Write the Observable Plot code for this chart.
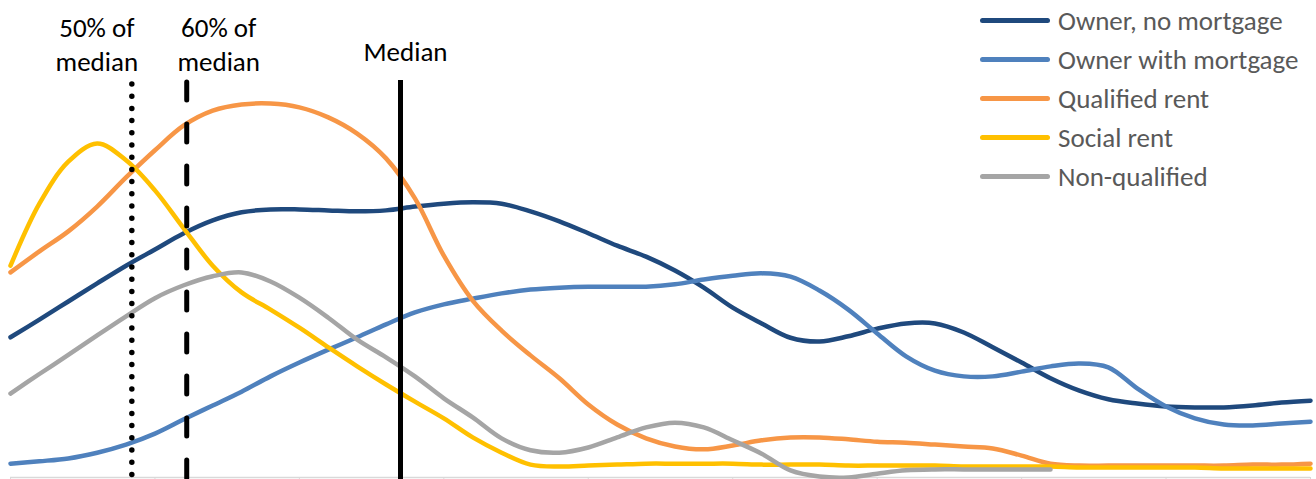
<!DOCTYPE html>
<html>
<head>
<meta charset="utf-8">
<script src="https://cdn.jsdelivr.net/npm/d3@7"></script>
<script src="https://cdn.jsdelivr.net/npm/@observablehq/plot@0.6"></script>
<style>
  html, body { margin: 0; padding: 0; background: #fff; }
  #wrap { position: relative; width: 1316px; height: 479px; overflow: hidden; }
  #legend { position: absolute; left: 980px; top: 1px; font-family: Carlito, Calibri, Lato, sans-serif; font-size: 27px; color: #595959; }
  .row { display: flex; align-items: center; height: 39px; }
  .sw { width: 70px; height: 5px; border-radius: 3px; margin-right: 8px; flex: none; }
</style>
</head>
<body>
<div id="wrap"><div id="legend"></div></div>
<script>
// Sample positions along the income axis (tick units)
const xs = [0,0.2,0.4,0.6,0.8,1.0,1.2,1.4,1.6,1.8,2.0,2.2,2.4,2.6,2.8,3.0,3.2,3.4,3.6,3.8,4.0,4.2,4.4,4.6,4.8,5.0,5.2,5.4,5.6,5.8,6.0,6.2,6.4,6.6,6.8,7.0,7.2,7.4,7.6,7.8,8.0,8.2,8.4,8.6,8.8,9.0];
const xTicks = [0,1,2,3,4,5,6,7,8,9];

const seriesNames = ["Owner, no mortgage", "Owner with mortgage", "Qualified rent", "Social rent", "Non-qualified"];
const seriesColors = ["#1F497D", "#4F81BD", "#F79646", "#FFC000", "#A5A5A5"];

const ownerNoMortgage = [2.94,3.31,3.69,4.07,4.44,4.78,5.12,5.39,5.56,5.62,5.62,5.60,5.58,5.60,5.68,5.74,5.77,5.74,5.58,5.37,5.12,4.86,4.63,4.34,3.98,3.56,3.23,2.93,2.85,2.96,3.12,3.23,3.23,3.04,2.73,2.41,2.08,1.82,1.64,1.55,1.49,1.47,1.47,1.51,1.57,1.61];
const ownerWithMortgage = [0.29,0.34,0.40,0.52,0.69,0.92,1.22,1.51,1.80,2.12,2.41,2.68,2.94,3.21,3.46,3.63,3.75,3.86,3.94,3.98,4.00,4.00,4.00,4.05,4.15,4.23,4.28,4.21,3.92,3.52,3.02,2.54,2.24,2.12,2.12,2.22,2.33,2.39,2.31,1.87,1.49,1.24,1.11,1.09,1.13,1.17];
const qualifiedRent = [4.30,4.74,5.16,5.68,6.29,6.86,7.38,7.69,7.82,7.84,7.76,7.55,7.21,6.69,5.85,4.65,3.71,3.08,2.56,2.08,1.53,1.11,0.82,0.65,0.59,0.67,0.78,0.84,0.84,0.80,0.75,0.73,0.69,0.65,0.61,0.46,0.29,0.25,0.25,0.25,0.25,0.25,0.25,0.27,0.27,0.29];
const socialRent = [4.44,5.74,6.62,7.00,6.65,6.02,5.22,4.44,3.88,3.52,3.14,2.73,2.33,1.95,1.59,1.24,0.84,0.52,0.27,0.23,0.25,0.27,0.29,0.29,0.29,0.29,0.27,0.27,0.27,0.25,0.25,0.25,0.25,0.23,0.23,0.23,0.23,0.21,0.21,0.21,0.21,0.21,0.19,0.19,0.19,0.19];
const nonQualified = [1.76,2.17,2.57,2.98,3.38,3.76,4.03,4.22,4.30,4.11,3.77,3.35,2.89,2.52,2.12,1.66,1.26,0.82,0.57,0.52,0.63,0.84,1.05,1.15,1.05,0.78,0.50,0.15,0.02,0.00,0.08,0.15,0.17,0.17,0.17,0.17,0.17,null,null,null,null,null,null,null,null,null];

// Reference lines: 50% of median, 60% of median, median
const refValues = [0.84, 1.22, 2.70];
const refLabels = ["50% of\nmedian", "60% of\nmedian", "Median"];

const allSeries = [ownerNoMortgage, ownerWithMortgage, qualifiedRent, socialRent, nonQualified];
const rows = [];
allSeries.forEach((vals, s) => {
  vals.forEach((v, i) => {
    if (v != null) rows.push({series: seriesNames[s], x: xs[i], value: v});
  });
});

const font = "Carlito, Calibri, Lato, sans-serif";

const chart = Plot.plot({
  width: 1316,
  height: 479,
  marginTop: 0,
  marginBottom: 2,
  marginLeft: 10,
  marginRight: 6,
  style: {fontFamily: font, background: "#fff", overflow: "visible"},
  x: {domain: [0, 9], axis: null},
  y: {domain: [0, 10], axis: null},
  color: {domain: seriesNames, range: seriesColors},
  marks: [
    Plot.ruleY([0], {stroke: "#d9d9d9", strokeWidth: 1.5}),
    Plot.axisX({ticks: xTicks, tickSize: 5, tickFormat: () => "", label: null, stroke: "#d9d9d9"}),
    Plot.line(rows, {x: "x", y: "value", z: "series", stroke: "series", curve: "catmull-rom", strokeWidth: 4.5, strokeLinecap: "round", strokeLinejoin: "round"}),
    Plot.ruleX([refValues[0]], {stroke: "#000", strokeWidth: 5.5, strokeDasharray: "0 12.2", strokeLinecap: "round", insetTop: 84, insetBottom: -4}),
    Plot.ruleX([refValues[1]], {stroke: "#000", strokeWidth: 5, strokeDasharray: "18 24", strokeLinecap: "round", insetTop: 82, insetBottom: -4}),
    Plot.ruleX([refValues[2]], {stroke: "#000", strokeWidth: 5, insetTop: 80, insetBottom: -4}),
    Plot.text([refLabels[0]], {x: () => refValues[0], text: d => d, frameAnchor: "top", lineAnchor: "top", dy: 13, dx: -35, fontSize: 27, lineHeight: 1.24, fill: "#000"}),
    Plot.text([refLabels[1]], {x: () => refValues[1], text: d => d, frameAnchor: "top", lineAnchor: "top", dy: 13, dx: 32, fontSize: 27, lineHeight: 1.24, fill: "#000"}),
    Plot.text([refLabels[2]], {x: () => refValues[2], text: d => d, frameAnchor: "top", lineAnchor: "top", dy: 41, dx: 5, fontSize: 27, fill: "#000"})
  ]
});

const wrap = document.getElementById("wrap");
wrap.insertBefore(chart, wrap.firstChild);

const legend = document.getElementById("legend");
seriesNames.forEach((name, i) => {
  const row = document.createElement("div");
  row.className = "row";
  const sw = document.createElement("div");
  sw.className = "sw";
  sw.style.background = seriesColors[i];
  const label = document.createElement("span");
  label.textContent = name;
  row.appendChild(sw);
  row.appendChild(label);
  legend.appendChild(row);
});
</script>
</body>
</html>
